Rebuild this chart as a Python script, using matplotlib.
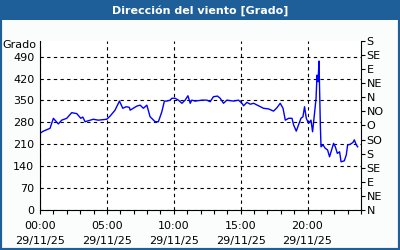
import matplotlib
matplotlib.use("Agg")
import matplotlib.pyplot as plt
from matplotlib.patches import Rectangle

# time in hours since 00:00 29/11/25
hours = [0.00, 0.25, 0.75, 1.00, 1.37, 1.62, 2.00, 2.37, 2.75, 3.05, 3.20, 3.37, 3.99, 4.36,
         4.99, 5.24, 5.61, 5.94, 6.19, 6.44, 6.68, 6.74, 7.24, 7.49, 7.73, 7.99, 8.23, 8.61,
         8.85, 9.11, 9.30, 9.48, 9.73, 9.86, 10.10, 10.35, 10.61, 10.85, 11.06, 11.23, 11.35,
         11.60, 12.10, 12.48, 12.72, 12.97, 13.27, 13.47, 13.72, 13.97, 14.47, 14.84, 15.10,
         15.22, 15.47, 15.72, 15.97, 16.34, 16.71, 17.09, 17.46, 17.72, 17.96, 18.17, 18.34,
         18.59, 18.84, 18.96, 19.16, 19.33, 19.51, 19.66, 19.78, 19.91, 20.08, 20.26, 20.38,
         20.51, 20.64, 20.71, 20.79, 20.86, 20.96, 21.01, 21.16, 21.33, 21.50, 21.65, 21.76,
         21.95, 22.08, 22.23, 22.40, 22.51, 22.75, 22.90, 23.00, 23.20, 23.40, 23.50, 23.65,
         23.75]
direction = [245, 252, 261, 293, 275, 287, 293, 311, 308, 293, 297, 282, 290, 287,
             290, 300, 319, 348, 325, 330, 328, 319, 332, 335, 325, 335, 298, 282,
             282, 314, 348, 348, 351, 357, 357, 351, 341, 351, 365, 341, 351,
             348, 351, 351, 346, 362, 364, 357, 341, 351, 348, 351, 341,
             333, 344, 338, 341, 333, 325, 323, 316, 327, 341, 325, 287,
             293, 293, 272, 252, 272, 293, 298, 330, 293, 277, 287, 250,
             303, 357, 431, 410, 476, 272, 202, 208, 197, 192, 170, 186,
             213, 202, 181, 186, 154, 157, 176, 208, 210, 216, 224, 208,
             202]

x_ticks = [0, 5, 10, 15, 20]
x_labels = ["00:00\n29/11/25", "05:00\n29/11/25", "10:00\n29/11/25",
            "15:00\n29/11/25", "20:00\n29/11/25"]
y_ticks = [0, 70, 140, 210, 280, 350, 420, 490]
compass_ticks = [0, 45, 90, 135, 180, 225, 270, 315, 360, 405, 450, 495, 540]
compass_labels = ["N", "NE", "E", "SE", "S", "SO", "O", "NO", "N", "NE", "E", "SE", "S"]
title = "Dirección del viento [Grado]"
unit = "Grado"

BLUE = "#1f5f99"
FS = 8
fig = plt.figure(figsize=(4, 2.5), dpi=100)
fig.patch.set_facecolor("#fbfdfd")
# border and title bar
fig.add_artist(Rectangle((0, 0), 1, 1, transform=fig.transFigure, fill=False,
                         edgecolor=BLUE, linewidth=3, zorder=0))
fig.add_artist(Rectangle((0, 1 - 20 / 250), 1, 20 / 250, transform=fig.transFigure,
                         facecolor=BLUE, edgecolor="none", zorder=1))
fig.text(0.5, 1 - 10.5 / 250, title, ha="center", va="center", color="white",
         fontsize=8, fontweight="bold")

ax = fig.add_axes([40 / 400, 40 / 250, 321 / 400, 169 / 250])
ax.set_facecolor("white")
ax.plot(hours, direction, color="#0000ff", linewidth=1.0)
ax.set_xlim(0, 24)
ax.set_ylim(0, 540)
ax.set_xticks(x_ticks)
ax.set_xticklabels(x_labels, fontsize=FS, linespacing=1.6)
ax.set_xticks(range(0, 25), minor=True)
ax.set_yticks(y_ticks)
ax.set_yticklabels([str(v) for v in y_ticks], fontsize=FS)
ax.tick_params(axis="x", which="both", direction="out", length=3, width=0.8, pad=5)
ax.tick_params(axis="y", which="both", length=0, pad=4)
ax.grid(True, which="major", color="black", linestyle=(0, (3, 3)), linewidth=0.8)
for s in ["top", "right"]:
    ax.spines[s].set_visible(False)
for s in ["left", "bottom"]:
    ax.spines[s].set_linewidth(0.8)

ax2 = ax.twinx()
ax2.set_ylim(0, 540)
ax2.set_yticks(compass_ticks)
ax2.set_yticklabels(compass_labels, fontsize=FS)
ax2.tick_params(axis="y", direction="out", length=3, width=0.8, pad=1)
for s in ["top", "left", "bottom"]:
    ax2.spines[s].set_visible(False)
ax2.spines["right"].set_linewidth(0.8)

ax.text(-0.012, 0.976, unit, transform=ax.transAxes, ha="right", va="center", fontsize=FS)

fig.savefig("out.png", dpi=100, facecolor=fig.get_facecolor())
